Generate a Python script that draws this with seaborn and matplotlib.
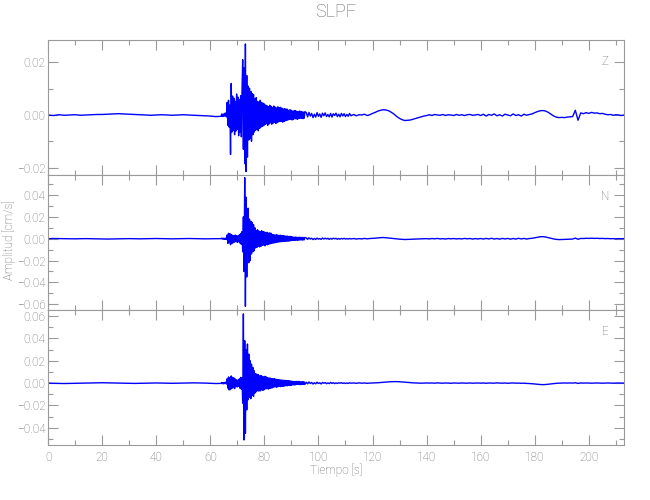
# sismograma de tres componentes (Z, N, E) - estación SLPF

import numpy as np
import matplotlib.pyplot as plt
import seaborn as sns
from matplotlib.ticker import MultipleLocator

sns.set_theme(style="white")
plt.rcParams['font.family'] = ['Roboto', 'DejaVu Sans']
plt.rcParams['font.weight'] = 'light'

# segmentos de muestreo: (inicio [s], paso [s])
segmentos = [(0.0, 2.0), (64.25, 0.25), (95.5, 0.5), (113.0, 1.0)]

# amplitudes en unidades de 1e-3 cm/s
z_a = [0.0, -0.2, 0.1, -0.1, 0.0, 0.1, -0.1, 0.0, 0.1, 0.2, 0.2, 0.3, 0.4, 0.5, 0.4, 0.3, 0.2,
       0.1, 0.0, -0.1, 0.0, 0.1, 0.0, -0.1, 0.0, 0.1, 0.0, -0.1, -0.2, -0.3, -0.4, -0.6, -0.5]
z_b = [0.4, -0.6, 0.3, -0.5, 0.6, -0.4, 0.8, -0.7,
       4.8, -3.9, 5.6, -4.6, 3.8,
       -15.0, 12.0,
       -6.5, 7.2, -5.8, 6.4, -7.5, 5.2, -6.1, 8.0, -5.4, 6.8, -7.9, 5.9, -6.6, 7.4, -8.3, 9.5,
       21.0, -13.0, 18.0, -18.5, 27.0, -21.5, 15.0, -16.0,
       11.0, -9.5, 10.2, -8.8, 9.0, -10.0, 8.2, -7.5, 7.8,
       -6.5, 6.2, -5.8, 6.6, -5.5, 5.2, -6.0, 4.9, -5.1, 5.6, -4.6, 4.8, -4.3, 4.5, -4.1, 4.2,
       -3.6, 3.8, -3.3, 3.5, -3.9, 3.2, -3.4, 3.7, -3.0, 3.3, -3.5, 2.9, -3.1, 3.4, -2.8, 3.0,
       -3.2, 2.7, -2.9, 3.1, -2.6, 2.8, -2.5, 2.9, -2.4, 2.6, -2.7, 2.3, -2.5, 2.4, -2.2, 2.3,
       -2.1, 2.2,
       -1.9, 1.8, -1.7, 2.0, -1.6, 1.8, -1.9, 1.5, -1.7, 1.6, -1.4, 1.7, -1.5, 1.4, -1.6, 1.3,
       -1.4, 1.5, -1.2, 1.4, -1.3, 1.2, -1.4, 1.1, -1.2, 1.3]
z_c = [0.9, -0.7, 1.0, -0.4, 0.6, -1.0, 0.3, -0.8, 0.9, -0.5, 0.4, -0.9, 0.7, -0.3, 0.8, -0.6,
       0.2, -0.7, 0.6, -0.8, 0.5, -0.2, 0.7, -0.6, 0.3, -0.7, 0.6, -0.4, 0.5, -0.6, 0.2, -0.5,
       0.6, -0.3]
z_d = [0.2, -0.3, 0.1, 0.0, 0.3, -0.2, 0.1,
       0.6, 1.0, 1.5, 1.8, 2.0, 1.9, 1.6, 1.0, 0.3,
       -0.6, -1.3, -1.8, -2.1, -2.0, -1.9, -1.6, -1.3, -1.0, -0.7, -0.4, -0.2,
       0.1, -0.2, 0.2, 0.0, -0.1, 0.2, -0.2, 0.1, 0.0, -0.2, 0.2, -0.1, 0.1, -0.2, 0.1, 0.2,
       -0.1, 0.0, 0.2, -0.2,
       0.3, -0.4, 0.2, -0.1, 0.4, -0.3, 0.1, -0.4, 0.3, 0.0, -0.3, 0.4, -0.2, 0.1, -0.4, 0.3,
       -0.1, 0.2,
       0.4, 0.9, 1.3, 1.6, 1.7, 1.5, 1.0, 0.3, -0.4,
       -0.8, -1.0, -0.9, -1.0, -0.8, -0.7, -0.6,
       1.8, -2.0, 0.8,
       0.5, 0.9, 0.6, 1.0, 0.7, 0.8, 0.5, 0.6,
       0.3, 0.1, 0.2, -0.1, 0.1, 0.0, -0.2, 0.0]

n_a = [0.0, 0.2, 0.1, -0.1, -0.2, -0.1, 0.0, 0.1, 0.0, -0.1, -0.2, -0.3, -0.2, -0.1, 0.0, 0.1,
       0.0, -0.1, 0.0, 0.1, 0.2, 0.1, 0.0, -0.1, 0.0, 0.1, 0.2, 0.1, 0.0, -0.1, 0.0, 0.2, 0.1]
n_b = [0.5, -0.4, 0.6, -0.5, 0.4, -0.6, 0.7, -0.5,
       3.5, -4.2, 5.0, -3.8, 4.6, -5.5, 3.9, -4.4, 3.2, -3.6, 2.8, -3.1, 3.4, -2.6, 2.9, -3.3,
       2.5, -2.8, 3.6, -4.0, 4.8, -5.2, 6.5,
       -12.0, 20.0, -30.0, 56.0, -62.0, 38.0, -35.0, 25.0,
       28.0, -22.0, 18.0, -20.0, 16.0, -14.0, 15.0, -12.0, 13.0, -11.0, 10.0,
       -8.5, 7.6, -7.9, 8.2, -6.8, 7.1, -7.5, 6.4, -6.9, 7.3, -6.1, 6.6, -5.8, 6.2, -6.5, 5.7,
       -5.3, 5.9, -5.6, 5.1, -4.9, 5.4, -4.6, 5.0,
       -4.2, 3.9, -4.0, 3.6, -3.8, 3.4, -3.5, 3.7, -3.2, 3.3, -3.0, 3.1, -2.9, 3.2, -2.7, 2.8,
       -2.6, 2.9, -2.5, 2.6, -2.4, 2.5, -2.2, 2.4, -2.3, 2.1, -2.0, 2.2, -1.9, 2.0,
       -1.6, 1.7, -1.5, 1.4, -1.6, 1.5, -1.3, 1.4, -1.5, 1.2, -1.3, 1.4, -1.2, 1.3, -1.1, 1.2,
       -1.3, 1.1, -1.0, 1.2]
n_c = [0.8, -0.6, 0.9, -0.3, 0.5, -0.8, 0.3, -0.7, 0.6, -0.4, 0.2, -0.6, 0.7, -0.3, 0.5, -0.2,
       0.4, -0.6, 0.3, -0.4, 0.5, -0.1, 0.4, -0.5, 0.2, -0.4, 0.3, -0.2, 0.4, -0.3, 0.1, -0.3,
       0.2, -0.2]
n_d = [0.2, -0.3, 0.1, -0.2, 0.3, -0.1, 0.2,
       0.3, 0.5, 0.8, 1.0, 1.1, 0.9, 0.7, 0.4, 0.1,
       -0.2, -0.4, -0.6, -0.7, -0.6, -0.5, -0.4, -0.3, -0.2, -0.1, 0.0, 0.1,
       -0.2, 0.2, -0.1, 0.3, -0.2, 0.1, -0.3, 0.2, -0.1, 0.2, -0.2, 0.1, -0.2, 0.3, -0.1, 0.2,
       -0.3, 0.1, -0.2, 0.2,
       -0.3, 0.3, -0.2, 0.4, -0.3, 0.2, -0.4, 0.3, -0.2, 0.3, -0.4, 0.2, -0.3, 0.4, -0.2, 0.3,
       -0.3, 0.2,
       0.4, 0.9, 1.4, 1.8, 1.9, 1.6, 1.0, 0.4, -0.2,
       -0.6, -0.8, -0.7, -0.6, -0.5, -0.4, -0.3,
       0.6, -0.5, 0.3,
       0.2, 0.4, 0.3, 0.5, 0.3, 0.4, 0.2, 0.3,
       0.1, 0.2, 0.0, 0.1, -0.1, 0.1, 0.0, 0.1]

e_a = [0.0, -0.2, -0.3, -0.4, -0.3, -0.2, -0.1, 0.0, 0.1, 0.2, 0.3, 0.2, 0.1, 0.0, -0.1, -0.2,
       -0.3, -0.2, -0.1, 0.0, 0.1, 0.0, -0.1, -0.2, -0.1, 0.0, 0.1, 0.2, 0.1, 0.0, -0.2, -0.4, -0.3]
e_b = [0.5, -0.6, 0.4, -0.7, 0.6, -0.5, 0.9, -0.8,
       3.8, -4.5, 5.5, -6.2, 4.9, -5.8, 6.4, -4.7, 5.2, -4.1, 4.6, -5.0, 3.7, -3.2, 2.9, -3.5,
       2.6, -3.0, 3.8, -4.6, 5.1, -5.4, 4.8,
       -18.0, 62.0, -51.0, 38.0, -45.0, 30.0, -24.0, 35.0,
       -15.0, 26.0, -13.0, 20.0, -14.0, 17.0, -11.0, 14.0, -12.0, 11.0, -9.0,
       8.5, -7.8, 8.0, -6.9, 7.6, -7.2, 6.5, -7.0, 6.8, -6.2, 6.0, -6.5, 5.6, -5.9, 6.1, -5.2,
       5.5, -5.0, 4.8, -5.4, 4.6, -4.9, 4.4, -4.5,
       4.0, -4.2, 3.8, -3.6, 3.9, -3.4, 3.5, -3.7, 3.2, -3.3, 3.0, -3.1, 2.9, -3.2, 2.7, -2.8,
       2.6, -2.9, 2.5, -2.6, 2.4, -2.5, 2.2, -2.4, 2.3, -2.1, 2.0, -2.2, 1.9, -2.0,
       1.7, -1.6, 1.5, -1.8, 1.4, -1.5, 1.6, -1.3, 1.4, -1.2, 1.5, -1.3, 1.2, -1.4, 1.1, -1.2,
       1.3, -1.1, 1.0, -1.2]
e_c = [0.8, -0.7, 1.0, -0.4, 0.6, -0.9, 0.3, -0.7, 0.8, -0.4, 0.3, -0.8, 0.6, -0.2, 0.5, -0.6,
       0.2, -0.5, 0.6, -0.3, 0.4, -0.5, 0.2, -0.4, 0.3, -0.1, 0.4, -0.3, 0.2, -0.4, 0.1, -0.3,
       0.3, -0.1]
e_d = [0.1, -0.2, 0.2, -0.1, 0.1, -0.2, 0.0,
       0.1, 0.2, 0.3, 0.5, 0.7, 0.9, 1.1, 1.2, 1.3,
       1.3, 1.2, 1.0, 0.8, 0.6, 0.4, 0.2, 0.1, 0.0, -0.1, 0.0, 0.1,
       0.0, 0.1, -0.1, 0.2, 0.0, -0.1, 0.1, 0.0, -0.2, 0.1, 0.0, -0.1, 0.1, 0.0, -0.1, 0.1,
       -0.1, 0.0, 0.1, -0.1,
       0.1, -0.2, 0.1, 0.0, -0.1, 0.2, 0.0, -0.1, 0.1, -0.2, 0.0, 0.1, -0.1, 0.0, -0.2, -0.1,
       -0.3, -0.4,
       -0.6, -0.8, -1.1, -1.3, -1.4, -1.3, -1.0, -0.7, -0.4,
       -0.2, -0.1, 0.0, 0.1, 0.0, 0.1, 0.0,
       0.3, -0.3, 0.1,
       0.0, 0.1, 0.0, -0.1, 0.0, 0.1, 0.0, -0.1,
       0.0, 0.1, 0.0, -0.1, 0.0, 0.1, 0.0, 0.0]

componentes = ['Z', 'N', 'E']
trazas = {'Z': [z_a, z_b, z_c, z_d], 'N': [n_a, n_b, n_c, n_d], 'E': [e_a, e_b, e_c, e_d]}
limites_y = {'Z': (-0.0228, 0.0285), 'N': (-0.0653, 0.0584), 'E': (-0.0555, 0.0655)}

gris = '#9a9a9a'
texto = '#6a6a6a'

fig = plt.figure(figsize=(6.5, 5), dpi=100)
izq, ancho, alto = 48 / 650, 576 / 650, 135 / 500
fondos = [1 - 175 / 500, 1 - 310 / 500, 1 - 445 / 500]

for comp, abajo in zip(componentes, fondos):
    ax = fig.add_axes([izq, abajo, ancho, alto])
    tiempo, amp = [], []
    for (t0, dt), seg in zip(segmentos, trazas[comp]):
        tiempo.append(t0 + dt * np.arange(len(seg)))
        amp.append(np.array(seg) * 1e-3)
    tiempo = np.concatenate(tiempo)
    amp = np.concatenate(amp)

    sns.lineplot(x=tiempo, y=amp, ax=ax, color='#0000ff', lw=1.0, estimator=None, sort=False)

    ax.set_xlim(0, 213)
    ax.set_ylim(*limites_y[comp])
    ax.xaxis.set_major_locator(MultipleLocator(20))
    ax.xaxis.set_minor_locator(MultipleLocator(10))
    ax.yaxis.set_major_locator(MultipleLocator(0.02))
    ax.yaxis.set_minor_locator(MultipleLocator(0.01))
    ax.yaxis.set_major_formatter(lambda v, p: f"{v:.2f}".replace('-', '\u2212'))
    ax.tick_params(which='both', direction='in', top=True, right=True, bottom=True, left=True,
                   colors=gris, labelcolor=texto, labelsize=8.5, pad=2)
    ax.tick_params(which='major', length=7, width=0.8)
    ax.tick_params(which='minor', length=3.5, width=0.8)
    for sp in ax.spines.values():
        sp.set_color(gris)
        sp.set_linewidth(0.8)
    ax.set_xlabel('')
    ax.set_ylabel('')
    if comp != 'E':
        ax.tick_params(labelbottom=False)
    else:
        ax.tick_params(axis='x', pad=4)
    ax.text(0.967, 0.84, comp, transform=ax.transAxes, ha='center', va='center',
            color=texto, fontsize=8.5)

fig.text(izq + ancho / 2, 1 - 12 / 500, 'SLPF', ha='center', va='center', color=texto, fontsize=13)
fig.text(izq + ancho / 2, 1 - 470 / 500, 'Tiempo [s]', ha='center', va='center', color=texto,
         fontsize=8.5)
fig.text(9 / 650, 1 - 240 / 500, 'Amplitud [cm/s]', ha='center', va='center', rotation=90,
         color=texto, fontsize=8.5)

fig.savefig('out.png', dpi=100)
